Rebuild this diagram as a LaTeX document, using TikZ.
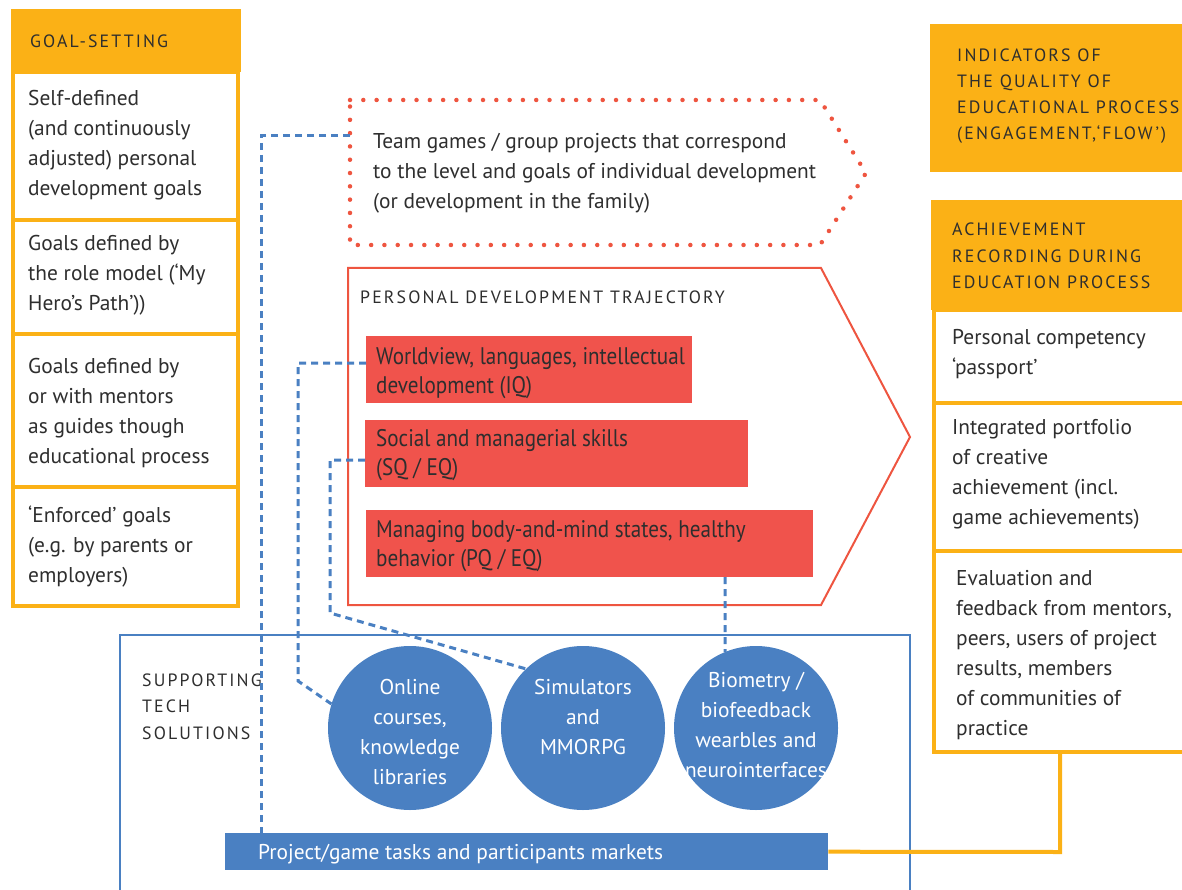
\documentclass[tikz,border=0pt]{standalone}
\usepackage{fontspec}
\setmainfont{PT Sans}
\newfontfamily\capsfont{PT Sans}[LetterSpace=12]
\newfontfamily\narrowfont{PT Sans}[FakeStretch=0.88]
\definecolor{orng}{HTML}{FBB116}
\definecolor{redf}{HTML}{F0534C}
\definecolor{redl}{HTML}{EE5540}
\definecolor{blu}{HTML}{4A80C2}
\definecolor{txt}{HTML}{2E2E2E}
\tikzset{
  body/.style={anchor=base west, align=left, inner sep=0pt, text=txt, font=\fontsize{21.4}{30}\selectfont},
  caps/.style={anchor=base west, align=left, inner sep=0pt, text=txt, font=\capsfont\fontsize{17.8}{26.5}\selectfont},
  redtxt/.style={anchor=base west, align=left, inner sep=0pt, text=txt, font=\narrowfont\fontsize{24}{29}\selectfont},
  circtxt/.style={anchor=base, align=center, inner sep=0pt, text=white, font=\fontsize{21.4}{30}\selectfont},
  obox/.style={draw=orng, line width=4pt, fill=white},
  bdash/.style={draw=blu, dash pattern=on 7pt off 5pt, line width=3pt},
  circ/.style={circle, fill=blu, minimum size=164pt, inner sep=0pt},
}
\begin{document}
\begin{tikzpicture}[x=1pt,y=-1pt]
\useasboundingbox (0,0) rectangle (1182,890);
% ---------- left column ----------
\fill[orng] (11,9) rectangle (241,72);
\node[caps] (gs) at (30,48) {GOAL-SETTING};
\draw[obox] (13,72) rectangle (238,220);
\draw[obox] (13,220) rectangle (238,334);
\draw[obox] (13,334) rectangle (238,487);
\draw[obox] (13,487) rectangle (238,606);
\node[body] (g1) at (28,196) {Self-defined\\(and continuously\\adjusted) personal\\development goals};
\node[body] (g2) at (28,311) {Goals defined by\\the role model (‘My\\Hero’s Path’))};
\node[body] (g3) at (28,463) {Goals defined by\\or with mentors\\as guides though\\educational process};
\node[body] (g4) at (28,582) {‘Enforced’ goals\\(e.g. by parents or\\employers)};
% ---------- team games dotted ----------
\draw[redl, line width=4.5pt, line cap=round, dash pattern=on 0pt off 13.3pt]
  (350,100) -- (820,100) -- (866,173) -- (820,245) -- (350,245) -- cycle;
\node[body] (team) at (373,209) {Team games / group projects that correspond\\to the level and goals of individual development\\(or development in the family)};
\coordinate (teamL) at (350,136);
% ---------- trajectory ----------
\draw[redl, line width=2pt] (348,268) -- (821,268) -- (910,437) -- (821,605) -- (348,605) -- cycle;
\node[caps] (pdt) at (360,303) {PERSONAL DEVELOPMENT TRAJECTORY};
\fill[redf] (366,336) rectangle (692,403);
\fill[redf] (365,420) rectangle (748,487);
\fill[redf] (366,510) rectangle (813,577);
\node[redtxt] (r1) at (376,393) {Worldview, languages, intellectual\\development (IQ)};
\node[redtxt] (r2) at (376,475) {Social and managerial skills\\(SQ / EQ)};
\node[redtxt] (r3) at (376,566) {Managing body-and-mind states, healthy\\behavior (PQ / EQ)};
\coordinate (r1L) at (366,363);
\coordinate (r2L) at (365,460);
\coordinate (r3B) at (725,577);
% ---------- supporting tech ----------
\draw[blu, line width=2pt] (120,892) -- (120,635) -- (910,635) -- (910,892);
\node[caps] (sts) at (142,739) {SUPPORTING\\TECH\\SOLUTIONS};
\node[circ] (c1) at (410,728) {};
\node[circ] (c2) at (583,728) {};
\node[circ] (c3) at (756,728) {};
\node[circtxt] (c1t) at (410,784) {Online\\courses,\\knowledge\\libraries};
\node[circtxt] (c2t) at (583,754) {Simulators\\and\\MMORPG};
\node[circtxt] (c3t) at (756,777) {Biometry /\\biofeedback\\wearbles and\\neurointerfaces};
\node[fill=blu, minimum width=603pt, minimum height=37pt, inner sep=0pt, anchor=north west] (bar) at (225,833) {};
\node[anchor=base west, inner sep=0pt, text=white, font=\fontsize{21.4}{30}\selectfont] (bart) at (258,859) {Project/game tasks and participants markets};
% dashed connectors
\draw[bdash] (teamL) -- (261,136) -- (261,833);
\draw[bdash] (r1L) -- (298,363) -- (298,681) -- (c1.163);
\draw[bdash] (r2L) -- (330,460) -- (330,613) -- (c2.134);
\draw[bdash] (r3B) -- (c3.112);
% ---------- right column ----------
\fill[orng] (930,24) rectangle (1182,172);
\node[caps, font=\capsfont\fontsize{17.8}{26}\selectfont] (ind) at (957,140) {INDICATORS OF\\THE QUALITY OF\\EDUCATIONAL PROCESS\\(ENGAGEMENT,‘FLOW’)};
\fill[orng] (931,200) rectangle (1184,310);
\node[caps] (ach) at (952,289) {ACHIEVEMENT\\RECORDING DURING\\EDUCATION PROCESS};
\draw[obox] (934,310) rectangle (1186,403);
\draw[obox] (934,403) rectangle (1186,551);
\draw[obox] (934,551) rectangle (1186,752);
\node[body] (a1) at (952,374) {Personal competency\\‘passport’};
\node[body] (a2) at (952,524) {Integrated portfolio\\of creative\\achievement (incl.\\game achievements)};
\node[body] (a3) at (956,735) {Evaluation and\\feedback from mentors,\\peers, users of project\\results, members\\of communities of\\practice};
\coordinate (a3b) at (1060,752);
\draw[orng, line width=4pt] (bar.east) -- (1060,852) -- (a3b);
\end{tikzpicture}
\end{document}
